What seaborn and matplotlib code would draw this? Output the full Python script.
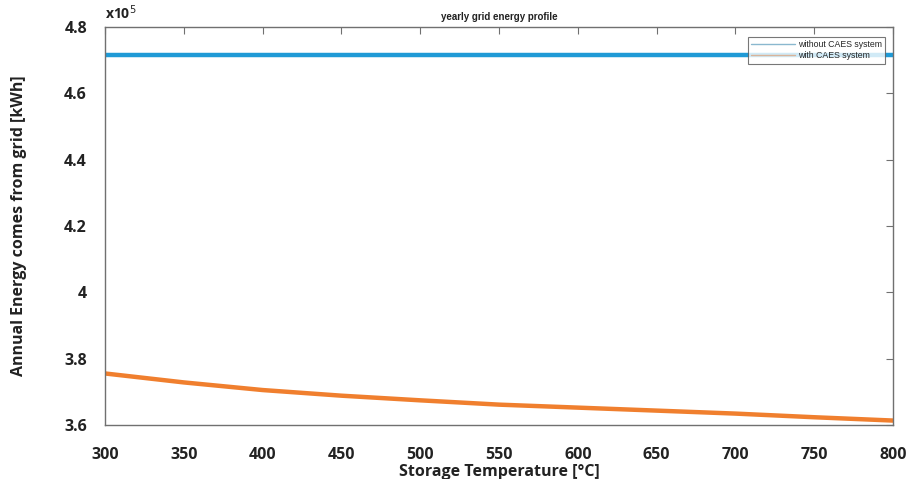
import numpy as np
import pandas as pd
import matplotlib
matplotlib.use("Agg")
import matplotlib.pyplot as plt
from matplotlib.lines import Line2D
import seaborn as sns

# Storage temperature sweep [°C]
temperature = [300, 350, 400, 450, 500, 550, 600, 650, 700, 750, 800]
# Annual grid energy [x1e5 kWh]
without_caes = [4.715, 4.715, 4.715, 4.715, 4.715, 4.715, 4.715, 4.715, 4.715, 4.715, 4.715]
with_caes = [3.755, 3.728, 3.705, 3.688, 3.674, 3.661, 3.652, 3.643, 3.634, 3.623, 3.613]
series_names = ["without CAES system", "with CAES system"]
x_ticks = [300, 350, 400, 450, 500, 550, 600, 650, 700, 750, 800]
y_ticks = [3.6, 3.8, 4.0, 4.2, 4.4, 4.6, 4.8]
y_tick_labels = ["3.6", "3.8", "4", "4.2", "4.4", "4.6", "4.8"]

df = pd.DataFrame({
    "Temperature": temperature * 2,
    "Energy": without_caes + with_caes,
    "Series": [series_names[0]] * len(temperature) + [series_names[1]] * len(temperature),
})

sns.set_theme(style="white")
plt.rcParams["font.family"] = ["Open Sans", "DejaVu Sans"]

colors = {series_names[0]: "#1f9ad6", series_names[1]: "#f07f2e"}

fig = plt.figure(figsize=(9.09, 4.79), dpi=100)
ax = fig.add_axes([0.1155, 0.113, 0.867, 0.831])

sns.lineplot(data=df, x="Temperature", y="Energy", hue="Series", palette=colors,
             linewidth=3.2, ax=ax, legend=False)

ax.set_xlim(300, 800)
ax.set_ylim(3.6, 4.8)
ax.set_xticks(x_ticks)
ax.set_xticklabels([str(t) for t in x_ticks])
ax.set_yticks(y_ticks)
ax.set_yticklabels(y_tick_labels)

axis_gray = "#707070"
for s in ax.spines.values():
    s.set_visible(True)
    s.set_color(axis_gray)
    s.set_linewidth(1.0)

ax.tick_params(axis="both", which="both", direction="in", length=5, width=0.8,
               colors=axis_gray, top=True, right=True, labelcolor="#222222")
ax.tick_params(axis="x", pad=16, labelsize=11.5)
ax.tick_params(axis="y", pad=13, labelsize=11.5)
for lab in ax.get_xticklabels() + ax.get_yticklabels():
    lab.set_fontweight("bold")

ax.set_xlabel("Storage Temperature [°C]", fontsize=11.5, fontweight="bold",
              color="#222222", labelpad=1)
ax.set_ylabel("Annual Energy comes from grid [kWh]", fontsize=11.5,
              fontweight="bold", color="#222222", labelpad=27)
ax.set_title("yearly grid energy profile", fontsize=7, fontweight="bold",
             family=["Liberation Sans", "DejaVu Sans"], color="#222222", pad=5)

ax.text(0.0, 1.012, r"x10$^{5}$", transform=ax.transAxes, fontsize=10,
        fontweight="bold", color="#222222", ha="left", va="bottom")

handles = [Line2D([0], [0], color="#8ab8cf", lw=1.0),
           Line2D([0], [0], color="#d9b49a", lw=1.0)]
leg = ax.legend(handles, series_names, loc="upper right",
                bbox_to_anchor=(0.99, 0.975),
                prop={"family": ["Liberation Sans", "DejaVu Sans"], "size": 6.3},
                frameon=True, fancybox=False, borderpad=0.35, labelspacing=0.3,
                handlelength=5.0, handletextpad=0.4, borderaxespad=0)
leg.get_frame().set_edgecolor("#555555")
leg.get_frame().set_linewidth(0.8)

fig.savefig("out.png", dpi=100)
